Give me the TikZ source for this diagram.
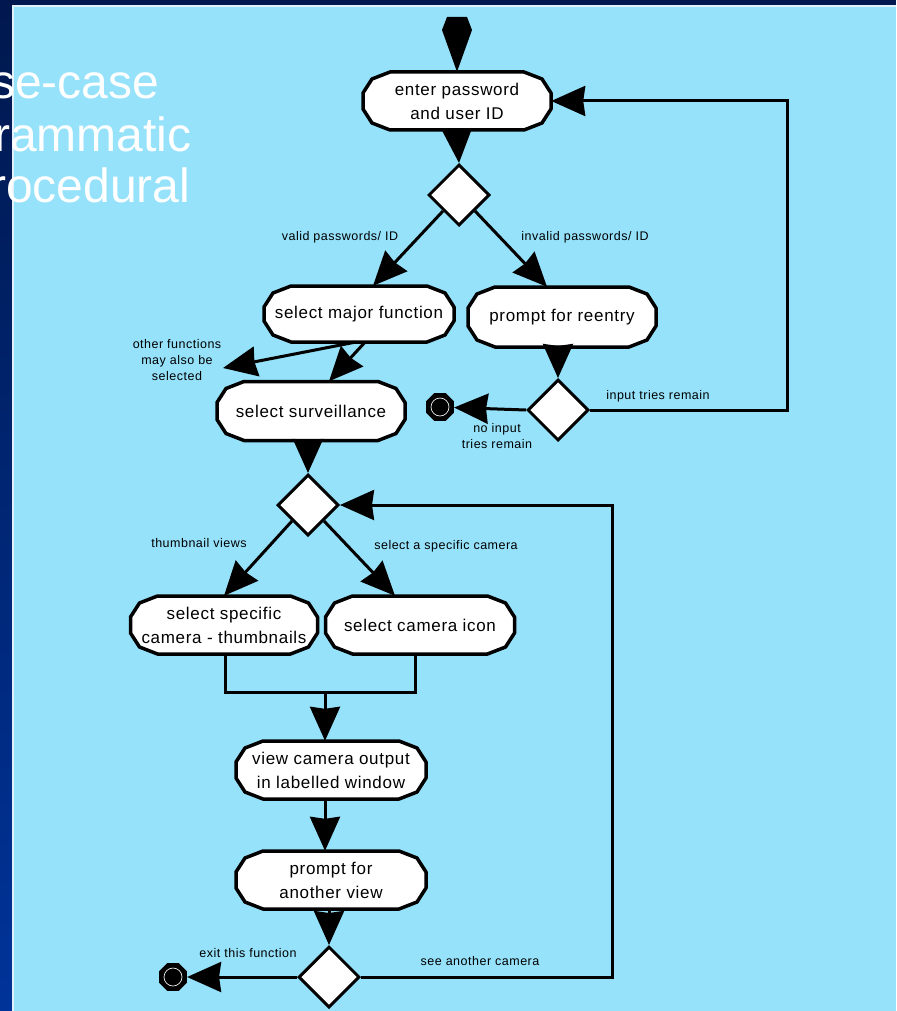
\documentclass[tikz,border=0pt]{standalone}
\usepackage{fontspec}
\setmainfont{Liberation Sans}
\newfontfamily\diafont[LetterSpace=4]{Liberation Sans}
\usetikzlibrary{arrows.meta,shapes.geometric,calc}

\definecolor{sky}{RGB}{150,226,251}
\definecolor{navytop}{RGB}{0,24,78}
\definecolor{navybot}{RGB}{0,51,153}
\definecolor{edge}{RGB}{225,240,250}

\tikzset{
  flow/.style={line width=3pt, -{Stealth[length=34pt,width=30pt,inset=2pt]}},
  wire/.style={line width=3pt},
  actshape/.style={draw=black, fill=white, line width=3.5pt, line join=round},
  acttext/.style={inner sep=0pt, align=center, font=\diafont\fontsize{17}{24}\selectfont},
  decision/.style={diamond, draw=black, fill=white, line width=3pt,
    minimum width=61pt, minimum height=61pt, inner sep=0pt},
  lbl/.style={font=\diafont\fontsize{12.5}{16}\selectfont, align=center, inner sep=0pt},
  finish/.style={regular polygon, regular polygon sides=8, fill=black, inner sep=0pt,
    minimum size=30pt,
    path picture={\draw[white!85!gray, line width=0.7pt]
      (path picture bounding box.center) circle (9pt);}},
  title/.style={anchor=base west, inner sep=0pt, text=white,
    font=\fontsize{48}{48}\selectfont},
}

% activity box: polygonal capsule outline with a centred label
% #1 name, #2 cx, #3 cy, #4 width, #5 height, #6 text
\newcommand\actbox[6]{%
  \path[actshape]
    ({#2-#4/2+27},{#3-#5/2}) -- ({#2+#4/2-27},{#3-#5/2})
    -- ({#2+#4/2-9},{#3-#5/2+7}) -- ({#2+#4/2},{#3-#5/2+21})
    -- ({#2+#4/2},{#3+#5/2-21}) -- ({#2+#4/2-9},{#3+#5/2-7})
    -- ({#2+#4/2-27},{#3+#5/2}) -- ({#2-#4/2+27},{#3+#5/2})
    -- ({#2-#4/2+9},{#3+#5/2-7}) -- ({#2-#4/2},{#3+#5/2-21})
    -- ({#2-#4/2},{#3-#5/2+21}) -- ({#2-#4/2+9},{#3-#5/2+7}) -- cycle;
  \node[acttext, minimum width=#4pt, minimum height=#5pt] (#1) at (#2,#3) {#6};%
}

\begin{document}
\begin{tikzpicture}[x=1pt,y=-1pt]
\useasboundingbox (0,0) rectangle (896,1011);

% slide background and frame
\fill[sky] (0,0) rectangle (896,1011);
\shade[top color=navytop, bottom color=navybot] (0,0) rectangle (12,1011);
\fill[navytop] (0,0) rectangle (896,5);
\fill[edge] (12,5) rectangle (896,7);
\fill[edge] (12,5) rectangle (14,1011);

% slide title fragments
\node[title] (t1) at (-9,99) {se-case};
\node[title] (t2) at (-6,152) {rammatic};
\node[title] (t3) at (-10,202) {rocedural};

% activities
\actbox{A}{457}{101}{188}{58}{enter password\\and user ID}
\actbox{B}{359}{314}{190}{56}{select major function}
\actbox{C}{562}{317}{188}{60}{prompt for reentry}
\actbox{E}{311}{411}{188}{59}{select surveillance}
\actbox{F}{224}{625}{187}{58}{select specific\\camera - thumbnails}
\actbox{G}{420}{625}{189}{58}{select camera icon}
\actbox{H}{331}{770}{190}{58}{view camera output\\in labelled window}
\actbox{I}{331}{880}{190}{58}{prompt for\\another view}

% decisions
\node[decision] (D1) at (459,195) {};
\node[decision] (D2) at (558,410) {};
\node[decision] (D3) at (308,505) {};
\node[decision] (D4) at (329,977) {};

% final states
\node[finish] (end1) at (440,407) {};
\node[finish] (end2) at (173,977) {};

% free ends and bends
\coordinate (start) at (457,17);
\coordinate (other) at (223,368);
\coordinate (loop1) at (787,101);
\coordinate (loop2) at (612,505);
\coordinate (barL) at (225,692);
\coordinate (barR) at (415,692);
\coordinate (join) at (325,692);

% entry flow: a single solid wedge from the top into the first activity
\fill[black] ($(start)+(-10,0)$) -- ($(start)+(10,0)$) -- ($(start)+(15,13)$)
  -- (A.north) -- ($(start)+(-15,13)$) -- cycle;

% flows
\draw[flow] (A.south) -- (D1.north);
\draw[flow] (D1.south west) -- ($(B.north)+(14,0)$);
\draw[flow] (D1.south east) -- ($(C.north)+(-15,0)$);
\draw[flow] (C.south -| D2.north) -- (D2.north);
\draw[flow] (D2.west) -- (end1);
\draw[flow] (D2.east) -| (loop1) -- (A.east);
\draw[flow] ($(B.south)+(6,0)$) -- ($(E.north)+(18,0)$);
\draw[flow] ($(B.south)+(-4,0)$) -- (other);
\draw[flow] (E.south -| D3.north) -- (D3.north);
\draw[flow] (D3.south west) -- (F.north);
\draw[flow] (D3.south east) -- ($(G.north)+(-25,0)$);
\draw[wire] (F.south -| barL) -- (barL) -- (barR) -- (G.south -| barR);
\draw[flow] (join) -- (H.north -| join);
\draw[flow] (H.south -| join) -- (I.north -| join);
\draw[flow] (I.south -| D4.north) -- (D4.north);
\draw[flow] (D4.west) -- (end2);
\draw[flow] (D4.east) -| (loop2) -- (D3.east);

% guard labels
\node[lbl] (l1) at (340,237) {valid passwords/ ID};
\node[lbl] (l2) at (585,237) {invalid passwords/ ID};
\node[lbl] (l3) at (177,360) {other functions\\may also be\\selected};
\node[lbl] (l4) at (658,396) {input tries remain};
\node[lbl] (l5) at (497,436) {no input\\tries remain};
\node[lbl] (l6) at (199,543) {thumbnail views};
\node[lbl] (l7) at (446,546) {select a specific camera};
\node[lbl] (l8) at (248,953) {exit this function};
\node[lbl] (l9) at (480,961) {see another camera};
\end{tikzpicture}
\end{document}
